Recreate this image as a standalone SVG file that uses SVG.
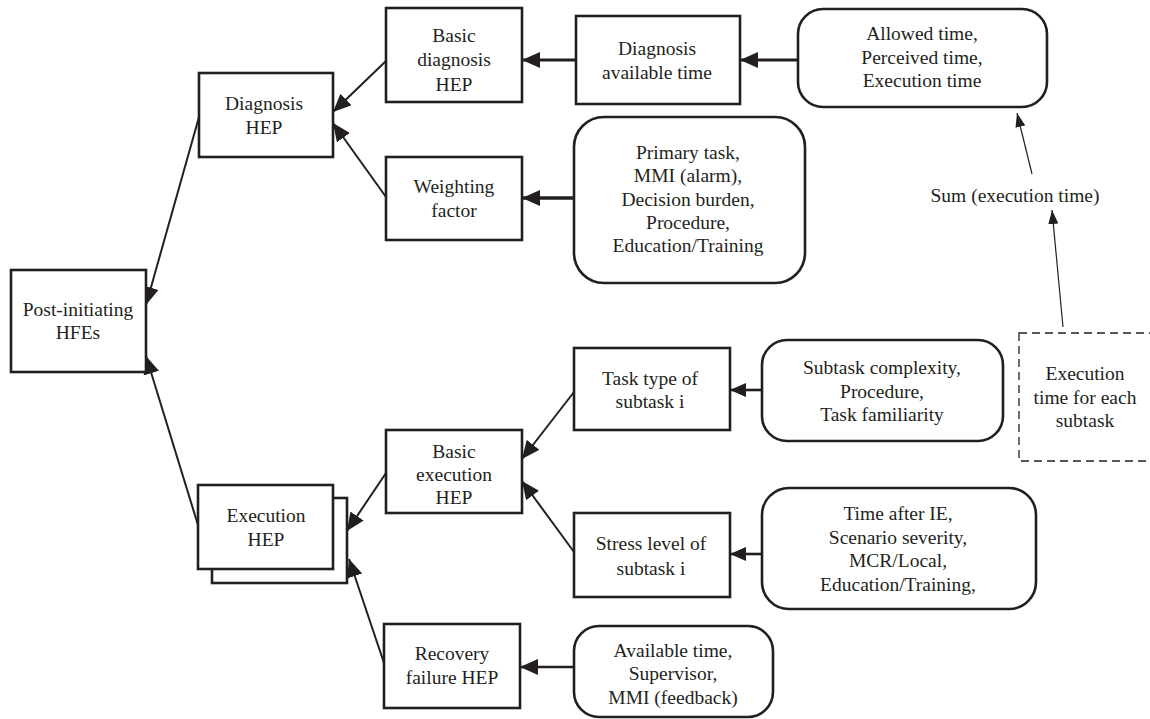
<svg xmlns="http://www.w3.org/2000/svg" width="1150" height="719" viewBox="0 0 1150 719">
  <style>
    .box { fill: #ffffff; stroke: #231f20; stroke-width: 2.6; }
    .dash { fill: none; stroke: #231f20; stroke-width: 1.3; stroke-dasharray: 8 5; }
    .t { font-family: "Liberation Serif", "Times New Roman", serif; font-size: 19.5px; fill: #231f20; text-anchor: middle; }
    .c { fill: none; stroke: #231f20; stroke-linecap: butt; }
  </style>
  <defs>
    <marker id="ah" markerUnits="userSpaceOnUse" markerWidth="18" markerHeight="16" refX="18" refY="8" orient="auto">
      <path d="M0,0 L18,8 L0,16 z" fill="#231f20"/>
    </marker>
    <marker id="ahm" markerUnits="userSpaceOnUse" markerWidth="16" markerHeight="14" refX="16" refY="7" orient="auto">
      <path d="M0,0 L16,7 L0,14 z" fill="#231f20"/>
    </marker>
    <marker id="ahs" markerUnits="userSpaceOnUse" markerWidth="14" markerHeight="10" refX="14" refY="5" orient="auto">
      <path d="M0,0 L14,5 L0,10 z" fill="#231f20"/>
    </marker>
  </defs>

  <g id="connectors">
    <line class="c" x1="199" y1="117" x2="146" y2="305" stroke-width="2" marker-end="url(#ah)"/>
    <line class="c" x1="198" y1="525" x2="146" y2="356" stroke-width="2" marker-end="url(#ah)"/>
    <line class="c" x1="386" y1="61" x2="333" y2="112" stroke-width="2" marker-end="url(#ah)"/>
    <line class="c" x1="386" y1="197" x2="333" y2="123" stroke-width="2" marker-end="url(#ah)"/>
    <line class="c" x1="576" y1="60" x2="522" y2="60" stroke-width="3" marker-end="url(#ah)"/>
    <line class="c" x1="798" y1="60" x2="740" y2="60" stroke-width="3" marker-end="url(#ah)"/>
    <line class="c" x1="574" y1="198" x2="522" y2="198" stroke-width="3.5" marker-end="url(#ah)"/>
    <line class="c" x1="1032" y1="174" x2="1017" y2="113" stroke-width="1.2" marker-end="url(#ahs)"/>
    <line class="c" x1="1063" y1="327" x2="1052" y2="210" stroke-width="1.2" marker-end="url(#ahs)"/>
    <line class="c" x1="386" y1="473" x2="347" y2="531" stroke-width="2" marker-end="url(#ah)"/>
    <line class="c" x1="384" y1="663" x2="349" y2="559" stroke-width="2" marker-end="url(#ah)"/>
    <line class="c" x1="574" y1="392" x2="522" y2="459" stroke-width="2" marker-end="url(#ah)"/>
    <line class="c" x1="574" y1="552" x2="522" y2="481" stroke-width="2" marker-end="url(#ah)"/>
    <line class="c" x1="762" y1="390" x2="730" y2="390" stroke-width="2.6" marker-end="url(#ahm)"/>
    <line class="c" x1="762" y1="554" x2="730" y2="554" stroke-width="2.6" marker-end="url(#ahm)"/>
    <line class="c" x1="574" y1="667" x2="520" y2="667" stroke-width="2.6" marker-end="url(#ah)"/>
  </g>

  <g id="post-initiating">
    <rect class="box" x="11" y="270" width="135" height="102"/>
    <text class="t" x="78" y="316">Post-initiating</text>
    <text class="t" x="78" y="339">HFEs</text>
  </g>

  <g id="diagnosis-hep">
    <rect class="box" x="199" y="73" width="134" height="84"/>
    <text class="t" x="264" y="110">Diagnosis</text>
    <text class="t" x="264" y="134">HEP</text>
  </g>

  <g id="basic-diagnosis">
    <rect class="box" x="386" y="8" width="136" height="94"/>
    <text class="t" x="454" y="42">Basic</text>
    <text class="t" x="454" y="66">diagnosis</text>
    <text class="t" x="454" y="91">HEP</text>
  </g>

  <g id="diagnosis-available-time">
    <rect class="box" x="576" y="16" width="164" height="88"/>
    <text class="t" x="657" y="55">Diagnosis</text>
    <text class="t" x="657" y="79">available time</text>
  </g>

  <g id="allowed-time">
    <rect class="box" x="798" y="9" width="249" height="98" rx="25" ry="25"/>
    <text class="t" x="922" y="40">Allowed time,</text>
    <text class="t" x="922" y="64">Perceived time,</text>
    <text class="t" x="922" y="87">Execution time</text>
  </g>

  <g id="weighting-factor">
    <rect class="box" x="386" y="157" width="136" height="83"/>
    <text class="t" x="454" y="193">Weighting</text>
    <text class="t" x="454" y="217">factor</text>
  </g>

  <g id="diagnosis-psf">
    <rect class="box" x="574" y="117" width="231" height="166" rx="30" ry="30"/>
    <text class="t" x="688" y="159">Primary task,</text>
    <text class="t" x="688" y="182">MMI (alarm),</text>
    <text class="t" x="688" y="206">Decision burden,</text>
    <text class="t" x="688" y="229">Procedure,</text>
    <text class="t" x="688" y="252">Education/Training</text>
  </g>

  <g id="sum-execution-time">
    <text class="t" x="1015" y="202">Sum (execution time)</text>
  </g>

  <g id="execution-time-each-subtask">
    <rect class="dash" x="1019" y="333" width="136" height="128"/>
    <text class="t" x="1085" y="380">Execution</text>
    <text class="t" x="1085" y="404">time for each</text>
    <text class="t" x="1085" y="427">subtask</text>
  </g>

  <g id="execution-hep">
    <rect class="box" x="212" y="498" width="135" height="85"/>
    <rect class="box" x="198" y="485" width="135" height="84"/>
    <text class="t" x="266" y="522">Execution</text>
    <text class="t" x="266" y="546">HEP</text>
  </g>

  <g id="basic-execution">
    <rect class="box" x="386" y="430" width="136" height="83"/>
    <text class="t" x="454" y="458">Basic</text>
    <text class="t" x="454" y="481">execution</text>
    <text class="t" x="454" y="504">HEP</text>
  </g>

  <g id="task-type">
    <rect class="box" x="574" y="348" width="156" height="82"/>
    <text class="t" x="650" y="385">Task type of</text>
    <text class="t" x="650" y="408">subtask i</text>
  </g>

  <g id="task-type-psf">
    <rect class="box" x="762" y="340" width="241" height="101" rx="25" ry="25"/>
    <text class="t" x="882" y="374">Subtask complexity,</text>
    <text class="t" x="882" y="398">Procedure,</text>
    <text class="t" x="882" y="421">Task familiarity</text>
  </g>

  <g id="stress-level">
    <rect class="box" x="574" y="513" width="156" height="84"/>
    <text class="t" x="651" y="550">Stress level of</text>
    <text class="t" x="651" y="575">subtask i</text>
  </g>

  <g id="stress-psf">
    <rect class="box" x="762" y="488" width="274" height="121" rx="27" ry="27"/>
    <text class="t" x="898" y="520">Time after IE,</text>
    <text class="t" x="898" y="544">Scenario severity,</text>
    <text class="t" x="898" y="567">MCR/Local,</text>
    <text class="t" x="898" y="591">Education/Training,</text>
  </g>

  <g id="recovery-failure">
    <rect class="box" x="384" y="624" width="136" height="84"/>
    <text class="t" x="452" y="660">Recovery</text>
    <text class="t" x="452" y="684">failure HEP</text>
  </g>

  <g id="recovery-psf">
    <rect class="box" x="574" y="626" width="199" height="91" rx="25" ry="25"/>
    <text class="t" x="673" y="657">Available time,</text>
    <text class="t" x="673" y="680">Supervisor,</text>
    <text class="t" x="673" y="704">MMI (feedback)</text>
  </g>
</svg>
